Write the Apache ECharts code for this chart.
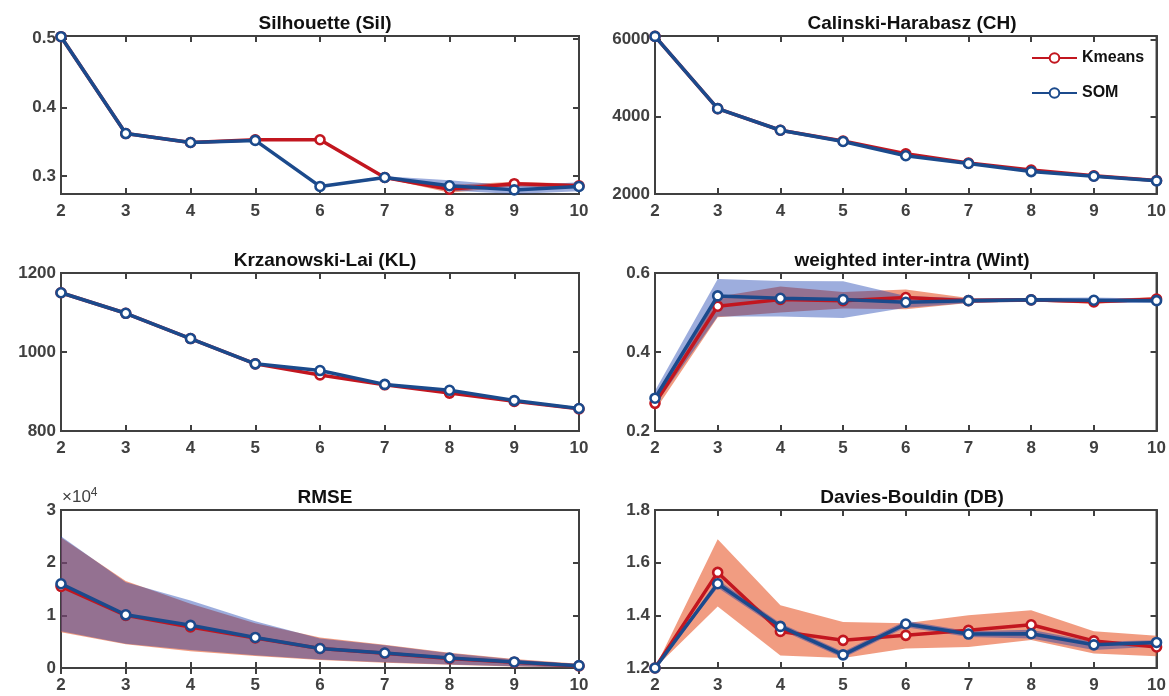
<!DOCTYPE html>
<html>
<head>
<meta charset="utf-8">
<script src="https://cdn.jsdelivr.net/npm/echarts@6/dist/echarts.min.js"></script>
<style>
html,body{margin:0;padding:0;background:#fff;}
#c{width:1169px;height:696px;}
</style>
</head>
<body>
<div id="c"></div>
<script>
const categories = ['2','3','4','5','6','7','8','9','10'];

// Silhouette
const silKmeans   = [0.503,0.362,0.349,0.353,0.353,0.298,0.281,0.289,0.286];
const silSOM      = [0.503,0.362,0.349,0.352,0.285,0.298,0.286,0.280,0.285];
const silKmeansLo = [0.503,0.362,0.349,0.353,0.353,0.297,0.276,0.285,0.283];
const silKmeansHi = [0.503,0.362,0.349,0.353,0.353,0.299,0.287,0.292,0.289];
const silSOMLo    = [0.503,0.362,0.349,0.352,0.284,0.296,0.279,0.274,0.278];
const silSOMHi    = [0.503,0.362,0.349,0.352,0.286,0.300,0.294,0.286,0.291];
const silTicks    = [0.3,0.4,0.5];

// Calinski-Harabasz
const chKmeans = [6080,4210,3650,3370,3040,2800,2620,2470,2350];
const chSOM    = [6080,4210,3650,3360,2990,2790,2580,2460,2340];
const chTicks  = [2000,4000,6000];

// Krzanowski-Lai
const klKmeans = [1150,1098,1034,970,942,917,896,875,856];
const klSOM    = [1150,1098,1034,970,953,918,903,877,857];
const klTicks  = [800,1000,1200];

// weighted inter-intra
const wintKmeans   = [0.270,0.516,0.533,0.530,0.538,0.530,0.532,0.527,0.534];
const wintSOM      = [0.283,0.542,0.536,0.533,0.526,0.530,0.532,0.531,0.530];
const wintKmeansLo = [0.252,0.488,0.500,0.510,0.508,0.524,0.528,0.522,0.529];
const wintKmeansHi = [0.290,0.540,0.566,0.552,0.558,0.537,0.537,0.533,0.539];
const wintSOMLo    = [0.265,0.490,0.490,0.486,0.512,0.524,0.527,0.524,0.525];
const wintSOMHi    = [0.302,0.585,0.580,0.579,0.542,0.536,0.537,0.538,0.535];
const wintTicks    = [0.2,0.4,0.6];

// RMSE
const rmseKmeans   = [15500,10000,7800,5700,3700,2800,1800,1100,400];
const rmseSOM      = [16000,10100,8100,5800,3700,2850,1900,1150,450];
const rmseKmeansLo = [6800,4500,3200,2300,1500,1000,600,300,100];
const rmseKmeansHi = [24800,16500,12200,8500,5800,4400,2900,1700,800];
const rmseSOMLo    = [7000,4600,3400,2400,1600,1100,650,320,100];
const rmseSOMHi    = [25000,16300,12800,8900,5600,4300,2800,1600,700];
const rmseTicks    = [0,10000,20000,30000];

// Davies-Bouldin
const dbKmeans   = [1.200,1.563,1.339,1.305,1.324,1.343,1.364,1.303,1.280];
const dbSOM      = [1.200,1.520,1.358,1.250,1.367,1.329,1.330,1.288,1.297];
const dbKmeansLo = [1.200,1.434,1.247,1.238,1.274,1.280,1.306,1.255,1.245];
const dbKmeansHi = [1.200,1.689,1.438,1.375,1.370,1.400,1.419,1.340,1.322];
const dbSOMLo    = [1.200,1.505,1.345,1.238,1.355,1.318,1.312,1.268,1.282];
const dbSOMHi    = [1.200,1.535,1.370,1.262,1.379,1.340,1.345,1.300,1.305];
const dbTicks    = [1.2,1.4,1.6,1.8];

const titles = ['Silhouette (Sil)','Calinski-Harabasz (CH)','Krzanowski-Lai (KL)','weighted inter-intra (Wint)','RMSE','Davies-Bouldin (DB)'];

const RED = '#c2161f', BLUE = '#1b4a8c';
const ORANGE_BAND = 'rgba(232,90,45,0.6)', BLUE_BAND = 'rgba(10,50,170,0.4)';
const AX = '#404040';
const FONT = "'Liberation Sans',Arial,sans-serif";

const panels = [
  {km:silKmeans, som:silSOM, kLo:silKmeansLo, kHi:silKmeansHi, sLo:silSOMLo, sHi:silSOMHi, ticks:silTicks, min:0.274, max:0.504, fmt:v=>v.toFixed(1)},
  {km:chKmeans, som:chSOM, ticks:chTicks, min:2000, max:6090, fmt:v=>String(Math.round(v))},
  {km:klKmeans, som:klSOM, ticks:klTicks, min:800, max:1200, fmt:v=>String(Math.round(v))},
  {km:wintKmeans, som:wintSOM, kLo:wintKmeansLo, kHi:wintKmeansHi, sLo:wintSOMLo, sHi:wintSOMHi, ticks:wintTicks, min:0.2, max:0.6, fmt:v=>v.toFixed(1)},
  {km:rmseKmeans, som:rmseSOM, kLo:rmseKmeansLo, kHi:rmseKmeansHi, sLo:rmseSOMLo, sHi:rmseSOMHi, ticks:rmseTicks, min:0, max:30000, fmt:v=>String(Math.round(v/10000))},
  {km:dbKmeans, som:dbSOM, kLo:dbKmeansLo, kHi:dbKmeansHi, sLo:dbSOMLo, sHi:dbSOMHi, ticks:dbTicks, min:1.2, max:1.8, fmt:v=>v.toFixed(1)}
];

const colLeft = [61, 655], colWidth = [518, 504];
const rowTop = [36, 273, 510], rowH = 158;

const grid = [], xAxis = [], yAxis = [], series = [], title = [];
panels.forEach((p, i) => {
  const col = i % 2, row = Math.floor(i / 2);
  const L = colLeft[col], W = colWidth[col], T = rowTop[row];
  grid.push({left: L, top: T, width: W, height: rowH, show: true, borderColor: AX, borderWidth: 2, containLabel: false});
  title.push({text: titles[i], left: L + W / 2, top: T - 27, textAlign: 'center',
    textStyle: {fontFamily: FONT, fontWeight: 'bold', fontSize: 19, color: '#111'}});
  const tickCommon = {show: true, inside: true, length: 6, lineStyle: {color: AX, width: 2}};
  xAxis.push({type: 'category', gridIndex: i, data: categories, boundaryGap: false, position: 'bottom',
    axisLine: {show: true, lineStyle: {color: AX, width: 2}},
    axisTick: Object.assign({alignWithLabel: true}, tickCommon),
    axisLabel: {fontFamily: FONT, fontWeight: 'bold', fontSize: 17, color: AX, margin: 9},
    splitLine: {show: false}});
  xAxis.push({type: 'category', gridIndex: i, data: categories, boundaryGap: false, position: 'top',
    axisLine: {show: true, lineStyle: {color: AX, width: 2}},
    axisTick: Object.assign({alignWithLabel: true}, tickCommon),
    axisLabel: {show: false}, splitLine: {show: false}});
  yAxis.push({type: 'value', gridIndex: i, min: p.min, max: p.max, position: 'left',
    axisLine: {show: true, lineStyle: {color: AX, width: 2}},
    axisTick: Object.assign({customValues: p.ticks}, tickCommon),
    axisLabel: {customValues: p.ticks, formatter: p.fmt, fontFamily: FONT, fontWeight: 'bold', fontSize: 17, color: AX, margin: 5},
    splitLine: {show: false}});
  yAxis.push({type: 'value', gridIndex: i, min: p.min, max: p.max, position: 'right',
    axisLine: {show: true, lineStyle: {color: AX, width: 2}},
    axisTick: Object.assign({customValues: p.ticks}, tickCommon),
    axisLabel: {show: false}, splitLine: {show: false}});
  const xi = i * 2, yi = i * 2;
  if (p.kLo) {
    series.push({type: 'line', name: 'kband' + i, xAxisIndex: xi, yAxisIndex: yi, stack: 'k' + i,
      data: p.kLo, showSymbol: false, symbol: 'none', lineStyle: {width: 0, opacity: 0}, silent: true, z: 1});
    series.push({type: 'line', name: 'kband' + i, xAxisIndex: xi, yAxisIndex: yi, stack: 'k' + i,
      data: p.kHi.map((v, j) => v - p.kLo[j]), showSymbol: false, symbol: 'none', lineStyle: {width: 0, opacity: 0},
      areaStyle: {color: ORANGE_BAND, opacity: 1}, silent: true, z: 1});
    series.push({type: 'line', name: 'sband' + i, xAxisIndex: xi, yAxisIndex: yi, stack: 's' + i,
      data: p.sLo, showSymbol: false, symbol: 'none', lineStyle: {width: 0, opacity: 0}, silent: true, z: 2});
    series.push({type: 'line', name: 'sband' + i, xAxisIndex: xi, yAxisIndex: yi, stack: 's' + i,
      data: p.sHi.map((v, j) => v - p.sLo[j]), showSymbol: false, symbol: 'none', lineStyle: {width: 0, opacity: 0},
      areaStyle: {color: BLUE_BAND, opacity: 1}, silent: true, z: 2});
  }
  series.push({type: 'line', name: 'Kmeans', xAxisIndex: xi, yAxisIndex: yi, data: p.km, clip: false,
    symbol: 'circle', symbolSize: 9, showSymbol: true,
    lineStyle: {color: RED, width: 3.5}, itemStyle: {color: '#fff', borderColor: RED, borderWidth: 2.6}, z: 3});
  series.push({type: 'line', name: 'SOM', xAxisIndex: xi, yAxisIndex: yi, data: p.som, clip: false,
    symbol: 'circle', symbolSize: 9, showSymbol: true,
    lineStyle: {color: BLUE, width: 3.5}, itemStyle: {color: '#fff', borderColor: BLUE, borderWidth: 2.6}, z: 4});
});

const chart = echarts.init(document.getElementById('c'), null, {renderer: 'canvas'});
chart.setOption({
  animation: false,
  backgroundColor: '#fff',
  title: title,
  grid: grid,
  xAxis: xAxis,
  yAxis: yAxis,
  series: series,
  legend: {
    data: ['Kmeans', 'SOM'], orient: 'vertical', left: 1026, top: 45,
    itemWidth: 45, itemHeight: 12, itemGap: 19,
    textStyle: {fontFamily: FONT, fontWeight: 'bold', fontSize: 16, color: '#111'}
  },
  graphic: [{
    type: 'text', left: 62, top: 487,
    style: {text: '×10{s|4}', font: "17px " + FONT, fill: AX,
      rich: {s: {fontSize: 12, verticalAlign: 'top', padding: [0, 0, 9, 0], fill: AX}}}
  }]
});
</script>
</body>
</html>
